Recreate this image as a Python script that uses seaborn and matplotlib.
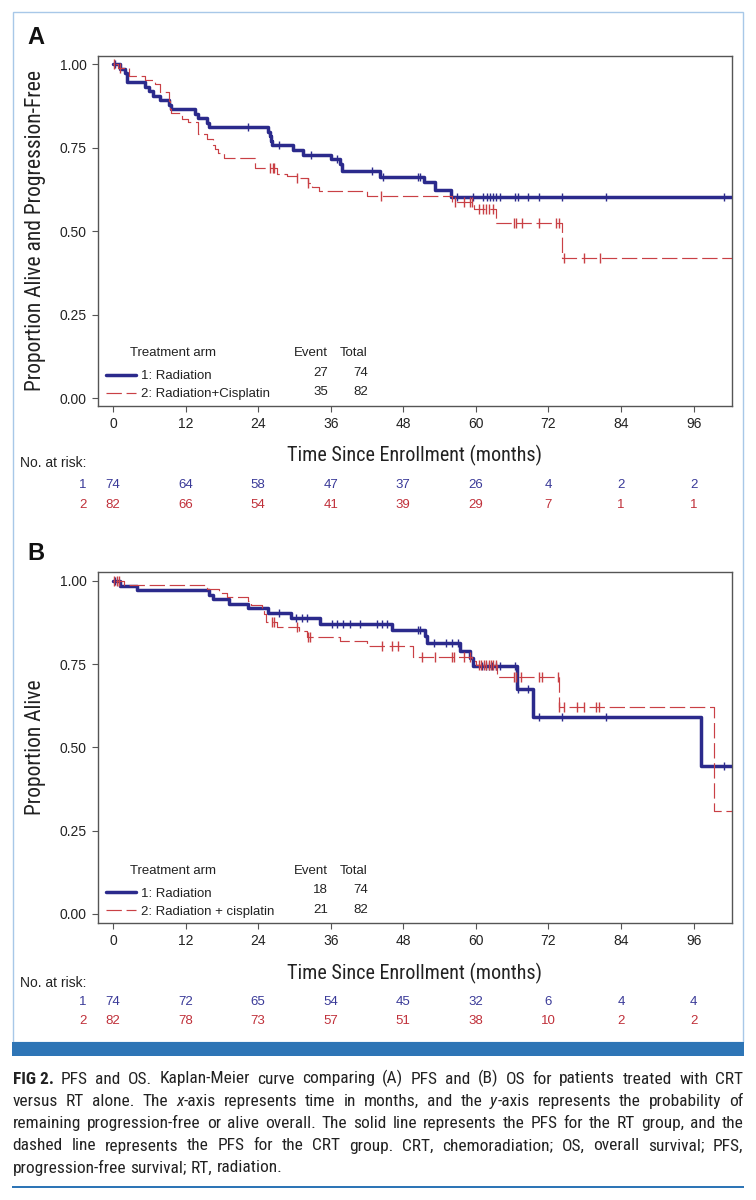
import numpy as np
import matplotlib
matplotlib.use("Agg")
import matplotlib.pyplot as plt
import matplotlib.transforms as mtransforms
from matplotlib.patches import Rectangle
from matplotlib.lines import Line2D
from matplotlib import font_manager
import seaborn as sns

# ------------------------------------------------------------------ data
# Panel A: progression-free survival (step times in months, survival after step)
pfs_rt_t = [0, 1.2, 2.0, 2.3, 5.3, 6.0, 6.6, 7.8, 9.3, 9.6, 13.6, 14.0, 15.5, 15.8,
            25.7, 25.9, 26.1, 26.3, 29.8, 31.4, 36.1, 37.5, 37.8, 44.1, 51.4, 53.3, 55.9]
pfs_rt_s = [1.0, 0.986, 0.973, 0.946, 0.932, 0.919, 0.905, 0.892, 0.878, 0.865, 0.851, 0.838,
            0.824, 0.811, 0.797, 0.784, 0.770, 0.757, 0.743, 0.729, 0.716, 0.702, 0.679,
            0.662, 0.646, 0.624, 0.603]
pfs_rt_cens = [0.3, 22.4, 27.5, 32.7, 37.0, 42.8, 44.6, 50.5, 50.8, 56.9, 59.5, 61.2, 61.8,
               62.3, 62.9, 63.4, 64.0, 66.5, 67.0, 68.6, 70.4, 74.2, 81.5, 101.0]

pfs_crt_t = [0, 0.9, 2.7, 5.3, 6.9, 7.8, 9.2, 9.4, 9.6, 11.4, 12.4, 14.1, 15.5, 16.6, 16.9,
             17.4, 18.3, 23.5, 27.1, 28.8, 30.4, 32.3, 32.9, 34.0, 42.0, 56.0, 59.7, 63.3, 74.3]
pfs_crt_s = [1.0, 0.988, 0.963, 0.951, 0.939, 0.915, 0.890, 0.866, 0.854, 0.834, 0.826, 0.789,
             0.776, 0.757, 0.745, 0.733, 0.720, 0.690, 0.672, 0.666, 0.659, 0.645, 0.632,
             0.619, 0.604, 0.587, 0.566, 0.523, 0.420]
pfs_crt_cens = [0.2, 1.1, 26.0, 26.4, 26.7, 30.4, 32.3, 44.3, 56.6, 58.0, 59.1, 59.4, 60.5,
                61.1, 61.7, 62.2, 62.8, 66.3, 66.7, 67.6, 70.4, 73.3, 73.7, 74.6, 77.9, 80.6]

# Panel B: overall survival
os_rt_t = [0, 1.1, 3.9, 15.8, 16.5, 19.1, 22.4, 25.6, 29.4, 34.2, 46.2, 51.6, 52.0, 57.4,
           59.1, 59.6, 66.8, 69.4, 97.3]
os_rt_s = [1.0, 0.986, 0.973, 0.959, 0.946, 0.932, 0.918, 0.904, 0.888, 0.872, 0.853, 0.834,
           0.815, 0.791, 0.768, 0.746, 0.675, 0.592, 0.444]
os_rt_cens = [0.3, 27.5, 30.2, 31.3, 32.0, 36.2, 37.0, 38.1, 39.2, 40.8, 43.6, 44.5, 45.3,
              50.5, 50.8, 53.0, 55.0, 56.0, 57.0, 61.0, 61.6, 62.2, 62.7, 63.3, 64.0, 66.5,
              67.0, 68.7, 70.4, 74.2, 81.5, 101.0]

os_crt_t = [0, 1.8, 15.6, 17.5, 18.9, 22.3, 22.9, 24.6, 24.9, 25.3, 27.1, 30.7, 32.1, 37.6,
            42.0, 49.6, 59.3, 60.1, 63.5, 73.7, 99.3]
os_crt_s = [1.0, 0.988, 0.975, 0.963, 0.951, 0.939, 0.927, 0.915, 0.902, 0.878, 0.863, 0.850,
            0.833, 0.820, 0.805, 0.771, 0.760, 0.748, 0.711, 0.621, 0.310]
os_crt_cens = [0.2, 0.6, 1.0, 26.3, 26.6, 30.4, 32.3, 32.6, 44.4, 46.1, 47.2, 51.1, 53.3,
               56.1, 56.4, 58.0, 59.1, 60.5, 60.9, 61.3, 61.7, 62.1, 62.5, 62.9, 63.3, 66.3,
               66.6, 67.4, 70.4, 71.0, 73.5, 73.7, 74.6, 76.7, 77.9, 79.9, 80.4]

follow_up_end = 103.0

risk_times = [0, 12, 24, 36, 48, 60, 72, 84, 96]
pfs_risk_rt = [74, 64, 58, 47, 37, 26, 4, 2, 2]
pfs_risk_crt = [82, 66, 54, 41, 39, 29, 7, 1, 1]
os_risk_rt = [74, 72, 65, 54, 45, 32, 6, 4, 4]
os_risk_crt = [82, 78, 73, 57, 51, 38, 10, 2, 2]

yticks = [0.00, 0.25, 0.50, 0.75, 1.00]

pfs_labels = ["1: Radiation", "2: Radiation+Cisplatin"]
os_labels = ["1: Radiation", "2: Radiation + cisplatin"]
pfs_events = [27, 35]
os_events = [18, 21]
totals = [74, 82]

caption_lines = [
    [[("FIG 2.", "bold", "normal")], "PFS", "and", "OS.", "Kaplan-Meier", "curve", "comparing",
     "(A)", "PFS", "and", "(B)", "OS", "for", "patients", "treated", "with", "CRT"],
    ["versus", "RT", "alone.", "The", [("x", "normal", "italic"), ("-axis", "normal", "normal")],
     "represents", "time", "in", "months,", "and", "the",
     [("y", "normal", "italic"), ("-axis", "normal", "normal")], "represents", "the",
     "probability", "of"],
    "remaining progression-free or alive overall. The solid line represents the PFS for the RT group, and the".split(),
    "dashed line represents the PFS for the CRT group. CRT, chemoradiation; OS, overall survival; PFS,".split(),
    "progression-free survival; RT, radiation.".split(),
]

# ------------------------------------------------------------------ style
BLUE = "#2B2A8C"
RED = "#C94045"
BLUE_TXT = "#3A3A98"
RED_TXT = "#C0303A"
FRAME = "#555555"
BORDER = "#A8C8E8"
BAR = "#2E75B6"


def pick_font(names):
    for n in names:
        try:
            font_manager.findfont(font_manager.FontProperties(family=n), fallback_to_default=False)
            return n
        except Exception:
            continue
    return "DejaVu Sans"


SANS = pick_font(["Liberation Sans", "Arial", "DejaVu Sans"])
NARROW = pick_font(["Roboto Condensed", "Liberation Sans Narrow", "Roboto", "Liberation Sans"])
CAPF = pick_font(["Roboto Condensed", "Liberation Sans Narrow", "Roboto", "Liberation Sans"])

sns.set_style("ticks")
plt.rcParams["font.family"] = [SANS, "DejaVu Sans"]

W, H = 756, 1200
fig = plt.figure(figsize=(W / 100, H / 100), dpi=100)
fig.patch.set_facecolor("white")


def fx(px):
    return px / W


def fy(py):
    return 1 - py / H


# outer decorations
fig.patches.append(Rectangle((fx(12.7), fy(1041.7)), fx(743) - fx(12.7), fy(11.7) - fy(1041.7),
                             transform=fig.transFigure, fill=False, edgecolor=BORDER, lw=1.0))
fig.patches.append(Rectangle((fx(12.2), fy(1055.5)), fx(744) - fx(12.2), fy(1041.5) - fy(1055.5),
                             transform=fig.transFigure, facecolor=BAR, edgecolor="none"))
fig.patches.append(Rectangle((fx(12.2), fy(1188)), fx(744) - fx(12.2), fy(1185.5) - fy(1188),
                             transform=fig.transFigure, facecolor=BAR, edgecolor="none"))

panels = [
    dict(letter="A", top=56.0, bottom=405.7, ylim=(-0.023, 1.024),
         ylabel="Proportion Alive and Progression-Free",
         rt=(pfs_rt_t, pfs_rt_s, pfs_rt_cens), crt=(pfs_crt_t, pfs_crt_s, pfs_crt_cens),
         risk=(pfs_risk_rt, pfs_risk_crt), labels=pfs_labels, events=pfs_events,
         xlab_y=455, norisk_y=463, row_y=(485.5, 504.5)),
    dict(letter="B", top=572.0, bottom=923.3, ylim=(-0.028, 1.027),
         ylabel="Proportion Alive",
         rt=(os_rt_t, os_rt_s, os_rt_cens), crt=(os_crt_t, os_crt_s, os_crt_cens),
         risk=(os_risk_rt, os_risk_crt), labels=os_labels, events=os_events,
         xlab_y=973, norisk_y=983, row_y=(1002, 1021.5)),
]

AX_L, AX_R = 98.0, 731.7


def step_value(times, surv, t):
    idx = np.searchsorted(np.asarray(times), np.asarray(t), side="right") - 1
    return np.asarray(surv)[idx]


for p in panels:
    ax = fig.add_axes([fx(AX_L), fy(p["bottom"]), fx(AX_R) - fx(AX_L), fy(p["top"]) - fy(p["bottom"])])
    handles = []
    for (t, s, c), color, lw, ls, lab in [
        (p["rt"], BLUE, 2.5, "-", p["labels"][0]),
        (p["crt"], RED, 0.85, (0, (13, 4)), p["labels"][1]),
    ]:
        tt = list(t) + [follow_up_end]
        ss = list(s) + [s[-1]]
        sns.lineplot(x=tt, y=ss, ax=ax, color=color, lw=lw, linestyle=ls,
                     drawstyle="steps-post", estimator=None, sort=False, zorder=3 if lw > 1 else 4)
        handles.append(Line2D([], [], color=color, lw=lw, linestyle=ls))
        cy = step_value(t, s, c)
        sns.scatterplot(x=list(c), y=list(cy), ax=ax, marker="|", s=38 if lw > 1 else 45,
                        color=color, linewidth=1.0, zorder=5)

    ax.set_xlim(-2.48, 102.3)
    ax.set_ylim(*p["ylim"])
    ax.set_xticks(risk_times)
    ax.set_xticklabels([str(v) for v in risk_times])
    ax.set_yticks(yticks)
    ax.set_yticklabels([f"{v:.2f}" for v in yticks])
    ax.tick_params(axis="both", labelsize=10, length=4, width=0.8, color=FRAME, pad=4,
                   labelcolor="#222222")
    for sp in ax.spines.values():
        sp.set_visible(True)
        sp.set_color(FRAME)
        sp.set_linewidth(1.0)

    ax.set_ylabel(p["ylabel"], fontsize=15.5, family=[NARROW, "DejaVu Sans"], color="#222222",
                  va="center")
    ax.yaxis.set_label_coords((36 - AX_L) / (AX_R - AX_L), 0.5)
    ax_h = p["bottom"] - p["top"]
    ax.set_xlabel("Time Since Enrollment (months)", fontsize=14.5, family=[NARROW, "DejaVu Sans"],
                  color="#222222", va="center")
    ax.xaxis.set_label_coords(0.5, (p["bottom"] - p["xlab_y"]) / ax_h)

    # legend
    def xf(px):
        return (px - AX_L) / (AX_R - AX_L)

    leg = ax.legend(handles=handles, labels=p["labels"], loc="lower left",
                    bbox_to_anchor=(xf(106), 5.5 / ax_h), frameon=False, fontsize=9.5,
                    handlelength=2.25, handletextpad=0.4, labelspacing=0.42,
                    borderpad=0, borderaxespad=0)
    for txt in leg.get_texts():
        txt.set_color("#222222")
    ax.text(xf(130), 0.150, "Treatment arm", transform=ax.transAxes, fontsize=9.5,
            va="center", ha="left", color="#222222")
    ax.text(xf(328), 0.150, "Event", transform=ax.transAxes, fontsize=9.5,
            va="center", ha="right", color="#222222")
    ax.text(xf(368), 0.150, "Total", transform=ax.transAxes, fontsize=9.5,
            va="center", ha="right", color="#222222")
    for i, ry in enumerate([0.094, 0.039]):
        ax.text(xf(328), ry, str(p["events"][i]), transform=ax.transAxes, fontsize=9.5,
                va="center", ha="right", color="#222222")
        ax.text(xf(368), ry, str(totals[i]), transform=ax.transAxes, fontsize=9.5,
                va="center", ha="right", color="#222222")

    # panel letter
    fig.text(fx(27), fy(p["top"] - 18.5), p["letter"], fontsize=17, fontweight="bold",
             va="center", ha="left", color="#111111")

    # numbers at risk
    fig.text(fx(20), fy(p["norisk_y"]), "No. at risk:", fontsize=10, va="center", ha="left",
             color="#222222")
    blend = mtransforms.blended_transform_factory(ax.transData, fig.transFigure)
    for row, (vals, col) in enumerate(zip(p["risk"], [BLUE_TXT, RED_TXT])):
        ry = fy(p["row_y"][row])
        fig.text(fx(86.5), ry, str(row + 1), fontsize=9.5, va="center", ha="right", color=col)
        for tx, v in zip(risk_times, vals):
            ax.text(tx, ry, str(v), transform=blend, fontsize=9.5, va="center", ha="center",
                    color=col, clip_on=False)

# ------------------------------------------------------------------ caption (justified)
fig.canvas.draw()
renderer = fig.canvas.get_renderer()


def seg_width(text, weight, style, size):
    t = fig.text(0, 0, text, fontsize=size, family=[CAPF, "DejaVu Sans"], fontweight=weight,
                 fontstyle=style)
    w = t.get_window_extent(renderer).width
    t.remove()
    return w


def norm_word(w):
    if isinstance(w, str):
        return [(w, "normal", "normal")]
    return w


CAP_L, CAP_R = 12.7, 743.5
base_size = 10.0
space_w = seg_width("a a", "normal", "normal", base_size) - 2 * seg_width("a", "normal", "normal", base_size)
max_nat = 0
for line in caption_lines[:-1]:
    words = [norm_word(w) for w in line]
    nat = sum(sum(seg_width(s, wt, st, base_size) for s, wt, st in w) for w in words) + space_w * (len(words) - 1)
    max_nat = max(max_nat, nat)
cap_size = min(12.5, base_size * (CAP_R - CAP_L) * 0.992 / max_nat)
space_w = seg_width("a a", "normal", "normal", cap_size) - 2 * seg_width("a", "normal", "normal", cap_size)

# baselines of the caption lines (pixels from top)
cap_base = [1083.5, 1106, 1128.3, 1150.5, 1172.5]
for li, line in enumerate(caption_lines):
    words = [norm_word(w) for w in line]
    widths = [[seg_width(s, wt, st, cap_size) for s, wt, st in w] for w in words]
    total = sum(sum(ws) for ws in widths)
    if li < len(caption_lines) - 1:
        gap = ((CAP_R - CAP_L) - total) / (len(words) - 1)
    else:
        gap = space_w
    x = CAP_L
    for w, ws in zip(words, widths):
        for (s, wt, st), sw in zip(w, ws):
            fig.text(fx(x), fy(cap_base[li]), s, fontsize=cap_size, family=[CAPF, "DejaVu Sans"],
                     fontweight=wt, fontstyle=st, va="baseline", ha="left", color="#222222")
            x += sw
        x += gap

fig.savefig("out.png", dpi=100)
